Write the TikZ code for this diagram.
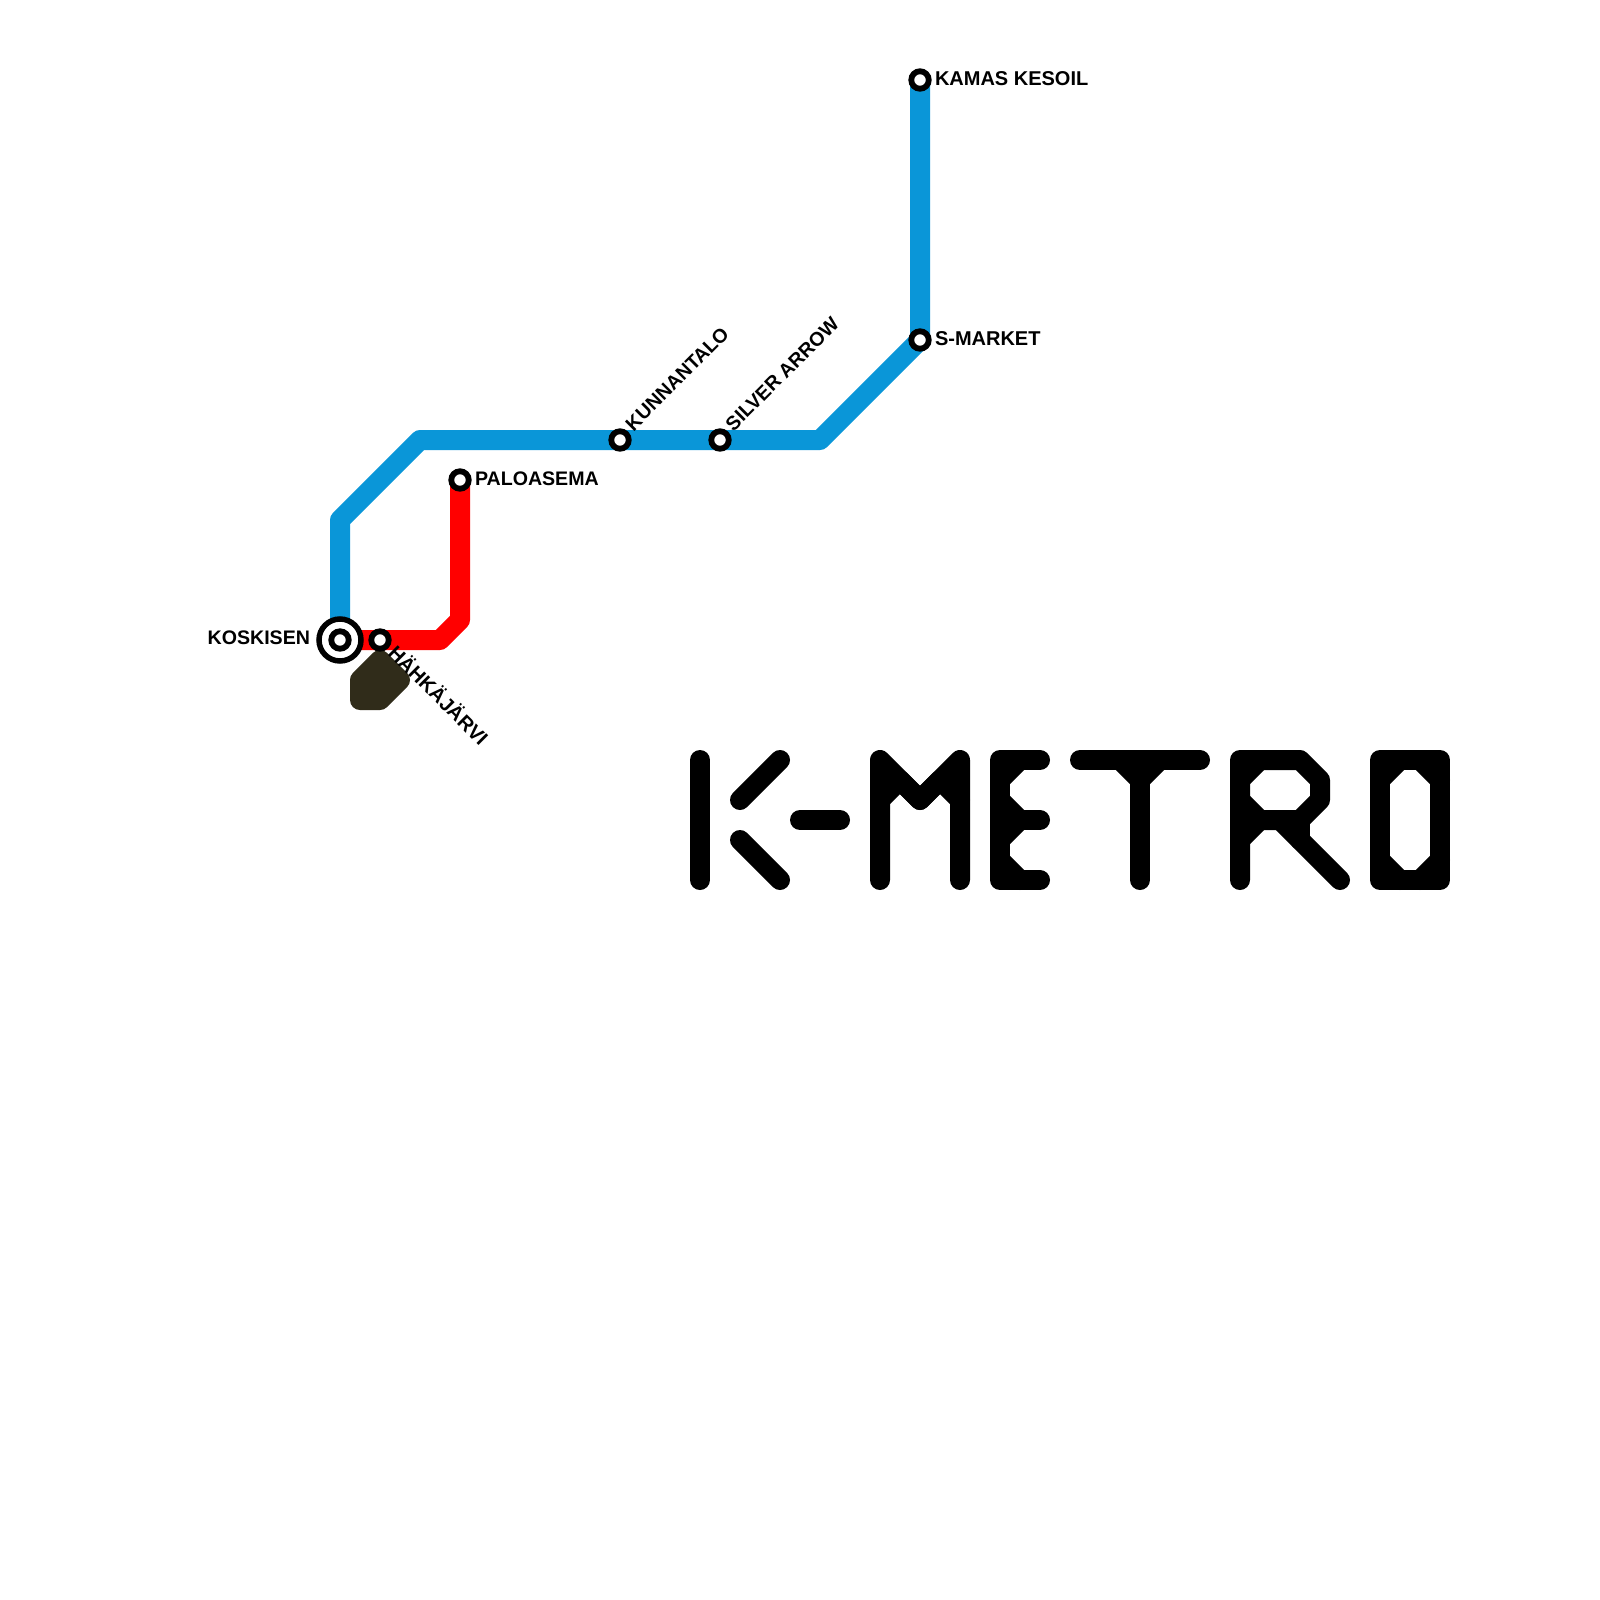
\documentclass[tikz,border=0pt]{standalone}
\usepackage{fontspec}
\setmainfont{Liberation Sans}
\definecolor{metroblue}{HTML}{0A96D8}
\definecolor{metrored}{HTML}{FF0000}
\definecolor{metrodark}{HTML}{302C1A}
\tikzset{
  track/.style={line width=20pt,line join=round,line cap=round},
  logo/.style={line width=20pt,line join=round,line cap=round,draw=black},
  stationmark/.style={circle,draw=black,fill=white,line width=5.8pt,minimum size=17.5pt,inner sep=0pt,outer sep=0pt},
  hubmark/.style={circle,draw=black,fill=white,line width=5.5pt,minimum size=42pt,inner sep=0pt,outer sep=0pt},
  stationlabel/.style={inner sep=0pt,outer sep=0pt,text=black,font=\bfseries\fontsize{20}{24}\selectfont},
  tightlabel/.style={inner sep=0pt,outer sep=0pt,text=black,font=\bfseries\fontsize{19.6}{24}\selectfont}
}
\begin{document}
\begin{tikzpicture}[x=1pt,y=-1pt]
\useasboundingbox (0,0) rectangle (1600,1600);
\fill[white] (0,0) rectangle (1600,1600);
% anchor points
\coordinate (kos) at (340,640);
\coordinate (hah) at (380,640);
\coordinate (pal) at (460,480);
\coordinate (kun) at (620,440);
\coordinate (sil) at (720,440);
\coordinate (smk) at (920,340);
\coordinate (kam) at (920,80);
\coordinate (b1) at (340,520);
\coordinate (b2) at (420,440);
\coordinate (b3) at (820,440);
\coordinate (r1) at (440,640);
\coordinate (r2) at (460,620);
% lines
\draw[track,metrored] (kos) -- (r1) -- (r2) -- (pal);
\draw[track,metroblue] (kos) -- (b1) -- (b2) -- (b3) -- (smk) -- (kam);
% dark shape
\draw[track,draw=metrodark,fill=metrodark] (360,700) -- (360,680) -- (380,660) -- (400,680) -- (380,700) -- cycle;
% labels
\node[tightlabel,anchor=base east] (lkos) at (310,644) {KOSKISEN};
\node[stationlabel,anchor=base west,rotate=-45] (lhah) at (387,654) {HÄHKÄJÄRVI};
\node[tightlabel,anchor=base west] (lpal) at (475,485) {PALOASEMA};
\node[tightlabel,anchor=base west,rotate=45] (lkun) at (633.5,432) {KUNNANTALO};
\node[tightlabel,anchor=base west,rotate=45] (lsil) at (733.5,432) {SILVER ARROW};
\node[stationlabel,anchor=base west] (lsmk) at (935,345) {S-MARKET};
\node[stationlabel,anchor=base west] (lkam) at (935,86) {KAMAS KESOIL};
% stations
\node[hubmark] (shub) at (kos) {};
\node[stationmark] (skos) at (kos) {};
\node[stationmark] (shah) at (hah) {};
\node[stationmark] (spal) at (pal) {};
\node[stationmark] (skun) at (kun) {};
\node[stationmark] (ssil) at (sil) {};
\node[stationmark] (ssmk) at (smk) {};
\node[stationmark] (skam) at (kam) {};
% K
\draw[logo] (700,760) -- (700,880);
\draw[logo] (780,760) -- (740,800);
\draw[logo] (740,840) -- (780,880);
% dash
\draw[logo] (800,820) -- (840,820);
% M
\draw[logo] (880,880) -- (880,760) -- (920,800) -- (960,760) -- (960,880);
\draw[logo] (880,800) -- (900,780) -- (920,800) -- (940,780) -- (960,800);
% E
\draw[logo] (1040,760) -- (1000,760) -- (1000,880) -- (1040,880);
\draw[logo] (1000,820) -- (1040,820);
\draw[logo] (1000,780) -- (1020,760);
\draw[logo] (1000,800) -- (1020,820) -- (1000,840);
\draw[logo] (1000,860) -- (1020,880);
% T
\draw[logo] (1080,760) -- (1200,760);
\draw[logo] (1140,760) -- (1140,880);
\draw[logo] (1120,760) -- (1140,780) -- (1160,760);
% R
\draw[logo] (1240,880) -- (1240,760) -- (1300,760) -- (1320,780) -- (1320,800) -- (1300,820) -- (1240,820);
\draw[logo] (1280,820) -- (1340,880);
\draw[logo] (1300,820) -- (1300,840);
\draw[logo] (1240,780) -- (1260,760);
\draw[logo] (1240,800) -- (1260,820) -- (1240,840);
% O
\draw[logo] (1380,760) -- (1440,760) -- (1440,880) -- (1380,880) -- cycle;
\draw[logo] (1380,780) -- (1400,760);
\draw[logo] (1420,760) -- (1440,780);
\draw[logo] (1440,860) -- (1420,880);
\draw[logo] (1400,880) -- (1380,860);
\end{tikzpicture}
\end{document}
